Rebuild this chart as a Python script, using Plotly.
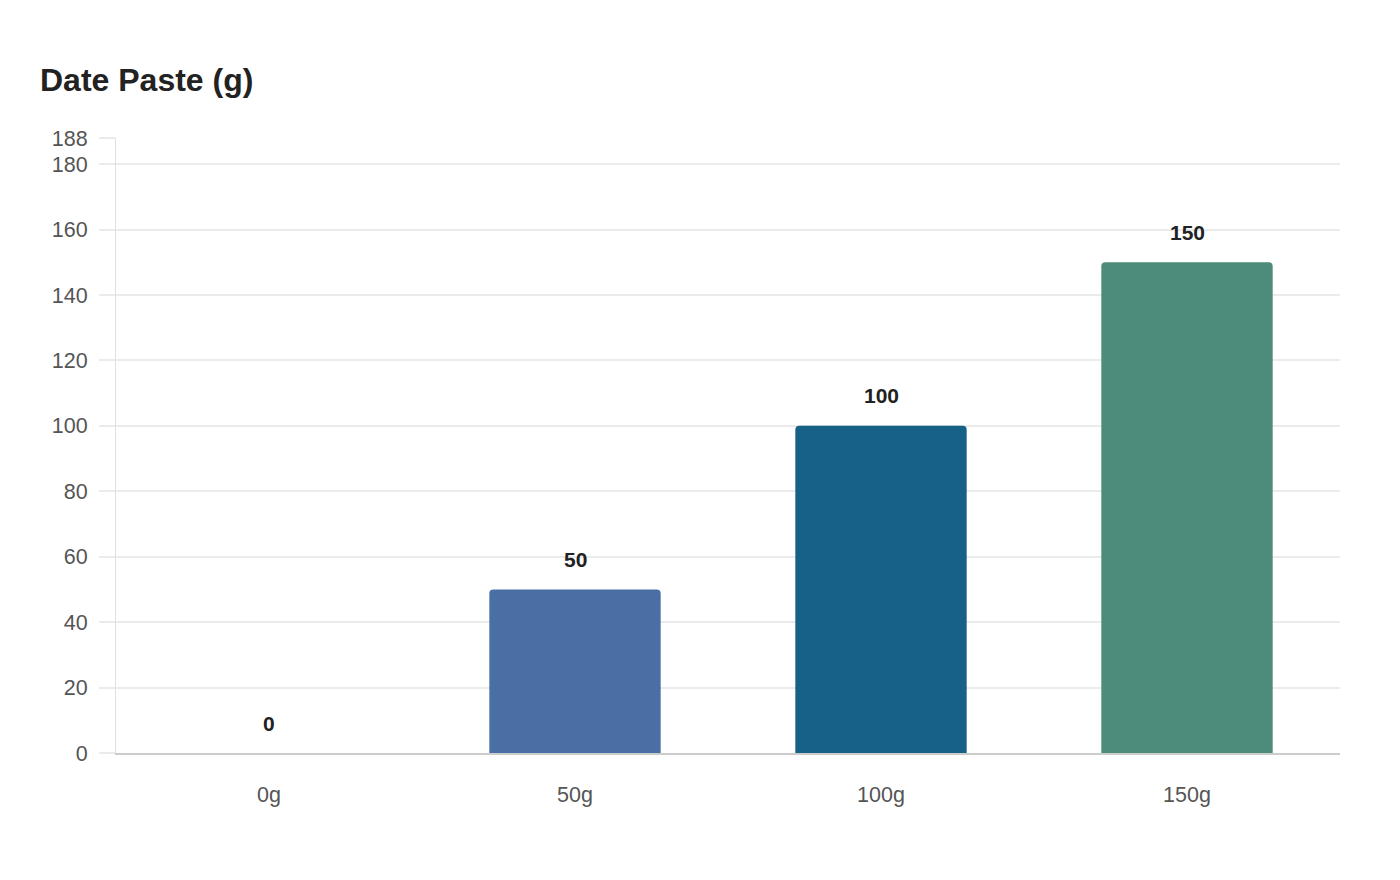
import plotly.graph_objects as go

categories = ["0g", "50g", "100g", "150g"]
values = [0, 50, 100, 150]
bar_colors = ["#4a6fa5", "#4a6fa5", "#176086", "#4d8b7a"]
y_ticks = [0, 20, 40, 60, 80, 100, 120, 140, 160, 180, 188]

fig = go.Figure()
fig.add_trace(go.Bar(
    x=categories, y=values,
    marker=dict(color=bar_colors, line=dict(width=0)),
    width=0.56,
    hoverinfo="x+y",
))

# labels above bars
for c, v in zip(categories, values):
    fig.add_annotation(
        x=c, y=v, text="<b>%d</b>" % v, showarrow=False,
        yshift=30, font=dict(size=21, color="#222222"),
    )

fig.update_layout(
    width=1400, height=880,
    paper_bgcolor="white", plot_bgcolor="white",
    font=dict(family="Liberation Sans, Arial, sans-serif"),
    margin=dict(l=108, r=68, t=130, b=135),
    barcornerradius=4,
    showlegend=False,
    title=dict(
        text="<b>Date Paste (g)</b>",
        x=32 / 1400, xref="container", xanchor="left",
        y=1 - 72 / 880, yref="container", yanchor="middle",
        font=dict(size=32, color="#222222"),
    ),
)
fig.update_xaxes(
    showgrid=False, showline=True, linecolor="#cccccc", linewidth=2,
    ticks="", ticklabelstandoff=21,
    tickfont=dict(size=21.5, color="#555555"),
)
fig.update_yaxes(
    range=[0, 188], tickvals=y_ticks,
    showgrid=True, gridcolor="#ebebeb", gridwidth=1.5,
    showline=True, linecolor="#e0e0e0", linewidth=1,
    ticks="outside", ticklen=16, tickcolor="#ebebeb", tickwidth=1.5,
    ticklabelstandoff=7,
    tickfont=dict(size=21.5, color="#555555"),
    zeroline=False,
)

fig.write_html("out.html")
